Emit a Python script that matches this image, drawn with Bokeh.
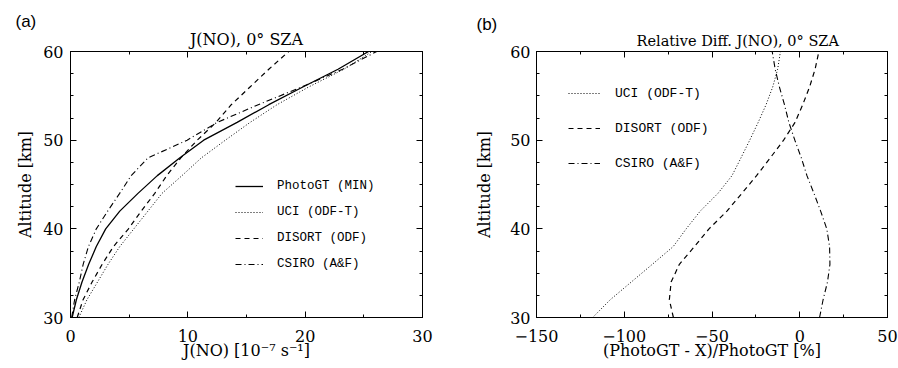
from bokeh.plotting import figure
from bokeh.models import (Range1d, LinearAxis, SingleIntervalTicker, Title,
                          Legend, LegendItem)
from bokeh.layouts import row
from bokeh.embed import file_html
from bokeh.resources import INLINE

# ---------------- data ----------------
altitude = [30, 32, 34, 36, 38, 40, 42, 44, 46, 48, 50, 52, 54, 56, 58, 60]

# panel (a): J(NO) [1e-7 s-1]
jno_photogt = [0.14, 0.5, 0.98, 1.55, 2.2, 3.0, 4.2, 5.75, 7.4, 9.3, 11.35, 14.2, 16.9, 19.8, 22.8, 25.4]
jno_uci     = [0.71, 1.4, 2.3, 3.2, 4.2, 5.4, 6.6, 7.8, 9.5, 11.15, 13.2, 15.3, 17.6, 20.3, 23.3, 25.7]
jno_disort  = [0.57, 1.07, 1.84, 2.7, 3.66, 4.94, 6.03, 7.18, 8.2, 9.4, 10.8, 12.4, 13.7, 15.3, 16.9, 18.6]
jno_csiro   = [0.1, 0.35, 0.75, 1.08, 1.53, 2.2, 3.17, 4.19, 5.17, 6.6, 9.94, 12.5, 16.0, 19.7, 23.2, 26.1]

# panel (b): relative difference [%]
rd_uci    = [-118, -108, -96, -84, -72.1, -64.7, -56.7, -46.6, -38.6, -33.5, -28.5, -23.7, -19.2, -15.4, -12.6, -11]
rd_disort = [-72, -74.3, -73.3, -68.6, -60, -51.7, -41.5, -33, -24.6, -16.8, -9.2, -2.7, 1.7, 5.6, 8.75, 10.9]
rd_csiro  = [11.3, 13.3, 15.8, 17.2, 17.0, 15.4, 11.9, 8.1, 4.1, 0.9, -2.8, -6.2, -8.7, -11.6, -14.0, -15.7]

labels_a = ["PhotoGT (MIN)", "UCI (ODF-T)", "DISORT (ODF)", "CSIRO (A&F)"]
labels_b = ["UCI (ODF-T)", "DISORT (ODF)", "CSIRO (A&F)"]

SERIF = "DejaVu Serif"
DOT = "1 2"
DASH = "5 4"
DASHDOT = "6 3 1 3"


def style_axis(ax, label=None, standoff_lab=8, standoff_axis=0, show_labels=True):
    ax.major_tick_in = 6
    ax.major_tick_out = 0
    ax.minor_tick_in = 3
    ax.minor_tick_out = 0
    ax.axis_line_color = "black"
    ax.major_tick_line_color = "black"
    ax.minor_tick_line_color = "black"
    ax.axis_line_width = 1
    if show_labels:
        ax.major_label_text_font = SERIF
        ax.major_label_text_font_size = "16px"
        ax.major_label_text_color = "black"
        ax.major_label_standoff = standoff_lab
    else:
        ax.major_label_text_font_size = "0px"
        ax.major_label_text_color = None
        ax.major_label_standoff = 0
    if label is not None:
        ax.axis_label = label
        ax.axis_label_text_font = SERIF
        ax.axis_label_text_font_size = "16px"
        ax.axis_label_text_font_style = "normal"
        ax.axis_label_text_color = "black"
        ax.axis_label_standoff = standoff_axis


def make_fig(width, border_left, border_right, xr, xint, xlabel, ylab_standoff, ytick_standoff,
             title, title_size, title_align, title_offset, tag, tag_offset):
    p = figure(width=width, height=368, output_backend="svg", toolbar_location=None,
               title=None,
               x_range=Range1d(*xr), y_range=Range1d(30, 60),
               x_axis_type=None, y_axis_type=None,
               min_border_left=border_left, min_border_right=border_right,
               min_border_top=51, min_border_bottom=51)
    p.grid.visible = False
    p.outline_line_color = "black"
    p.background_fill_color = "white"
    p.border_fill_color = "white"
    xt = SingleIntervalTicker(interval=xint, num_minor_ticks=2)
    yt = SingleIntervalTicker(interval=10, num_minor_ticks=4)
    xb = LinearAxis(ticker=xt)
    style_axis(xb, xlabel, standoff_lab=12, standoff_axis=-4)
    p.add_layout(xb, "below")
    xa = LinearAxis(ticker=xt)
    style_axis(xa, show_labels=False)
    p.add_layout(xa, "above")
    yl = LinearAxis(ticker=yt)
    style_axis(yl, "Altitude [km]", standoff_lab=ytick_standoff, standoff_axis=ylab_standoff)
    p.add_layout(yl, "left")
    yr = LinearAxis(ticker=yt)
    style_axis(yr, show_labels=False)
    p.add_layout(yr, "right")
    p.add_layout(Title(text=title, align=title_align, offset=title_offset, standoff=5,
                       text_font=SERIF, text_font_size=title_size,
                       text_font_style="normal", text_color="black"), "above")
    p.add_layout(Title(text=tag, align="left", offset=tag_offset, standoff=-11,
                       text_font="Liberation Sans", text_font_size="17px",
                       text_font_style="normal", text_color="black"), "above")
    return p


# ---------------- panel (a) ----------------
pa = make_fig(458, 70, 36, (0, 30), 10, "J(NO) [10\u207b\u2077 s\u207b\u00b9]", 5, 7,
              "J(NO), 0\u00b0 SZA", "16px", "center", 0, "(a)", -55)
r1 = pa.line(jno_photogt, altitude, line_color="black", line_width=1.3)
r2 = pa.line(jno_uci, altitude, line_color="black", line_width=1, line_dash=DOT)
r3 = pa.line(jno_disort, altitude, line_color="black", line_width=1.2, line_dash=DASH)
r4 = pa.line(jno_csiro, altitude, line_color="black", line_width=1.1, line_dash=DASHDOT)
leg_a = Legend(items=[LegendItem(label=l, renderers=[r]) for l, r in zip(labels_a, [r1, r2, r3, r4])],
               location=(165, 43), padding=0, margin=0, spacing=6, label_height=20,
               glyph_height=20, glyph_width=28, label_standoff=14,
               border_line_color=None, background_fill_alpha=0,
               label_text_font="Liberation Mono", label_text_font_size="12.5px",
               label_text_color="black")
pa.add_layout(leg_a)

# ---------------- panel (b) ----------------
pb = make_fig(440, 78, 11, (-150, 50), 50, "(PhotoGT - X)/PhotoGT [%]", 13, 6,
              "Relative Diff. J(NO), 0\u00b0 SZA", "14.5px", "left", 100, "(b)", -60)
s1 = pb.line(rd_uci, altitude, line_color="black", line_width=1, line_dash=DOT)
s2 = pb.line(rd_disort, altitude, line_color="black", line_width=1.2, line_dash=DASH)
s3 = pb.line(rd_csiro, altitude, line_color="black", line_width=1.1, line_dash=DASHDOT)
leg_b = Legend(items=[LegendItem(label=l, renderers=[r]) for l, r in zip(labels_b, [s1, s2, s3])],
               location=(32, 144), padding=0, margin=0, spacing=15, label_height=20,
               glyph_height=20, glyph_width=32, label_standoff=15,
               border_line_color=None, background_fill_alpha=0,
               label_text_font="Liberation Mono", label_text_font_size="13px",
               label_text_color="black")
pb.add_layout(leg_b)

layout = row(pa, pb)
open("out.html", "w").write(file_html(layout, INLINE))
